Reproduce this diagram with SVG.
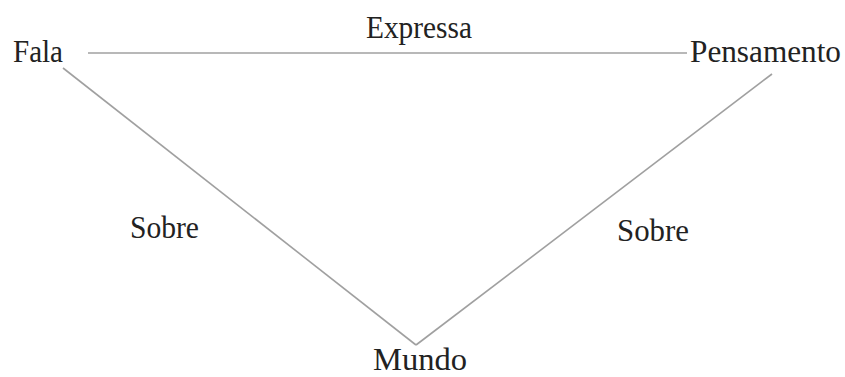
<svg xmlns="http://www.w3.org/2000/svg" width="845" height="377" viewBox="0 0 845 377">
<style>
.t{font-family:"Liberation Serif","Times New Roman",serif;font-size:31px;fill:#222}
.c{stroke:#a0a0a0;stroke-width:1.6;fill:none}
</style>
<rect width="845" height="377" fill="#fff"/>
<g id="connectors">
<line class="c" x1="88" y1="53" x2="687" y2="53"/>
<line class="c" x1="63" y1="68" x2="416" y2="345"/>
<line class="c" x1="772" y1="74" x2="416" y2="345"/>
</g>
<g id="label-expressa"><text class="t" x="366" y="38" textLength="106" lengthAdjust="spacingAndGlyphs">Expressa</text></g>
<g id="label-sobre-left"><text class="t" x="130" y="238" textLength="69" lengthAdjust="spacingAndGlyphs">Sobre</text></g>
<g id="label-sobre-right"><text class="t" x="617" y="241" textLength="72" lengthAdjust="spacingAndGlyphs">Sobre</text></g>
<g id="node-fala"><text class="t" x="13" y="62" textLength="50" lengthAdjust="spacingAndGlyphs">Fala</text></g>
<g id="node-pensamento"><text class="t" x="690" y="62" textLength="151" lengthAdjust="spacingAndGlyphs">Pensamento</text></g>
<g id="node-mundo"><text class="t" x="373" y="370" textLength="94" lengthAdjust="spacingAndGlyphs">Mundo</text></g>
</svg>
